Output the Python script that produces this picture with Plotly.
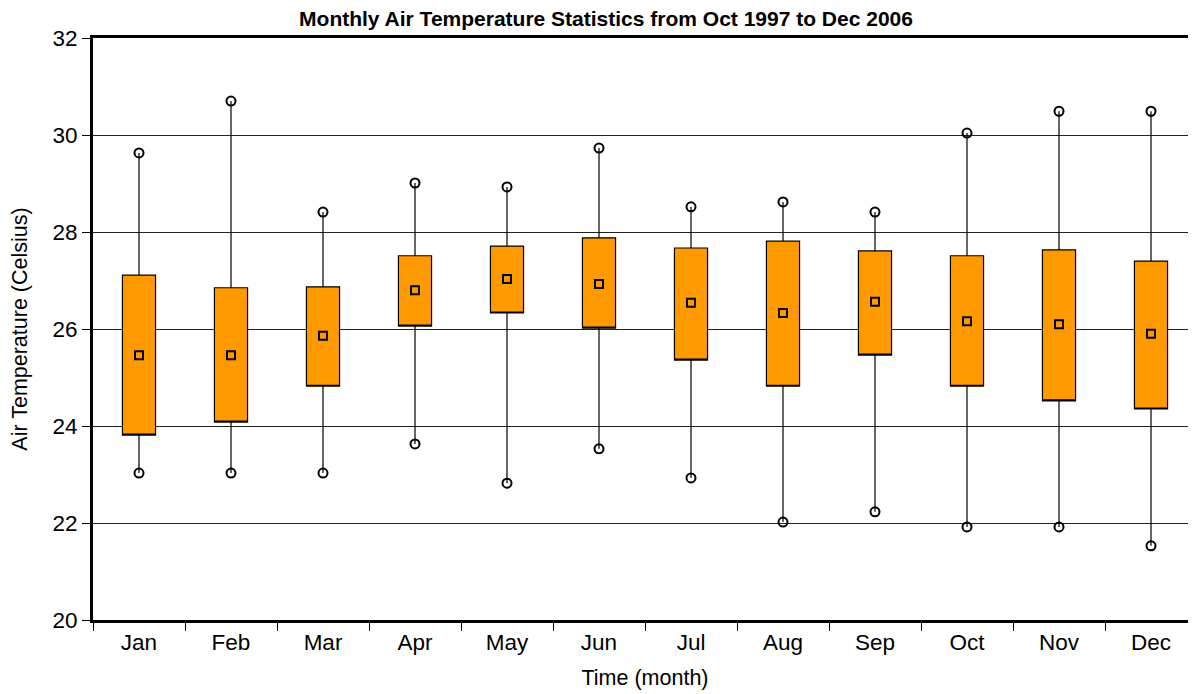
import plotly.graph_objects as go

months = ["Jan", "Feb", "Mar", "Apr", "May", "Jun", "Jul", "Aug", "Sep", "Oct", "Nov", "Dec"]
t_max = [29.63, 30.70, 28.41, 29.01, 28.93, 29.73, 28.52, 28.62, 28.41, 30.04, 30.49, 30.49]
t_q3 = [27.11, 26.85, 26.87, 27.51, 27.71, 27.88, 27.67, 27.81, 27.61, 27.51, 27.63, 27.40]
t_mean = [25.46, 25.46, 25.86, 26.80, 27.03, 26.93, 26.54, 26.33, 26.56, 26.16, 26.10, 25.90]
t_q1 = [23.81, 24.08, 24.82, 26.06, 26.33, 26.02, 25.36, 24.82, 25.46, 24.82, 24.52, 24.35]
t_min = [23.03, 23.03, 23.03, 23.63, 22.82, 23.53, 22.93, 22.02, 22.23, 21.92, 21.92, 21.53]

FONT = "Liberation Sans, Arial, sans-serif"

fig = go.Figure()
fig.add_trace(go.Box(
    x=months, q1=t_q1, median=t_q1, q3=t_q3,
    lowerfence=t_min, upperfence=t_max,
    width=0.36, whiskerwidth=0, boxpoints=False,
    fillcolor="#FF9900", line=dict(color="black", width=1.2),
    showlegend=False, hoverinfo="skip",
))
fig.add_trace(go.Scatter(
    x=months + months, y=t_min + t_max, mode="markers",
    marker=dict(symbol="circle-open", size=9, color="black", line=dict(width=2)),
    showlegend=False, hoverinfo="skip",
))
fig.add_trace(go.Scatter(
    x=months, y=t_mean, mode="markers",
    marker=dict(symbol="square-open", size=8, color="black", line=dict(width=2)),
    showlegend=False, hoverinfo="skip",
))

fig.update_layout(
    width=1196, height=694,
    margin=dict(l=85, r=7, t=30, b=82),
    paper_bgcolor="white", plot_bgcolor="white",
    font=dict(family=FONT, color="black"),
    title=dict(text="<b>Monthly Air Temperature Statistics from Oct 1997 to Dec 2006</b>",
               x=0.5, xanchor="center", y=1 - 10.5 / 694, yanchor="middle",
               font=dict(size=21, family=FONT, color="black")),
    xaxis=dict(
        type="category", categoryorder="array", categoryarray=months,
        range=[-0.5, 11.5], tickson="boundaries", ticks="outside", ticklen=8,
        tickwidth=1, tickcolor="black", automargin=False,
        showline=True, linewidth=3, linecolor="black", mirror=True,
        showgrid=False, tickfont=dict(size=22.5),
        title=dict(text="Time (month)", font=dict(size=21.5), standoff=16),
    ),
    yaxis=dict(
        range=[20, 32], tickvals=[20, 22, 24, 26, 28, 30, 32],
        ticks="outside", ticklen=8, tickwidth=1, tickcolor="black", automargin=False,
        showline=True, linewidth=3, linecolor="black",
        showgrid=True, gridcolor="#222222", gridwidth=1, zeroline=False,
        tickfont=dict(size=22.5),
        title=dict(text="Air Temperature (Celsius)", font=dict(size=21.5), standoff=24),
    ),
)

fig.write_html("out.html")
